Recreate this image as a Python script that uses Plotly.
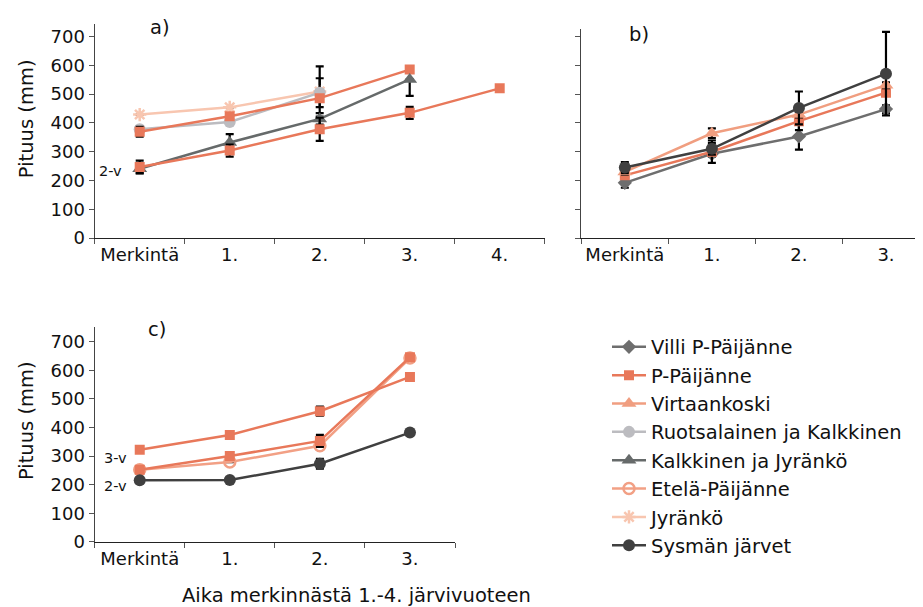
import plotly.graph_objects as go

W, H = 923, 607
FONT = "DejaVu Sans"

cats_a = ["Merkintä", "1.", "2.", "3.", "4."]
cats_bc = ["Merkintä", "1.", "2.", "3."]
y_ticks = [0, 100, 200, 300, 400, 500, 600, 700]

# ---- panel a ----
a_jyranko = [429, 454, 509]
a_jyranko_err = [0, 0, 87]
a_ruots = [378, 403, 505]
a_ruots_err = [0, 0, 50]
a_pp_upper = [369, 423, 486, 585]
a_pp_upper_err = [17, 0, 0, 0]
a_kalk_jyr = [241, 332, 414, 551]
a_kalk_jyr_plus = [15, 29, 20, 0]
a_kalk_jyr_minus = [15, 29, 20, 57]
a_pp_lower = [247, 304, 378, 435, 520]
a_pp_lower_err = [22, 21, 40, 21, 3]

# ---- panel b ----
b_villi = [192, 293, 353, 448]
b_villi_err = [17, 10, 46, 13]
b_pp = [218, 300, 406, 505]
b_pp_err = [10, 39, 31, 10]
b_virta = [230, 364, 429, 531]
b_virta_err = [10, 17, 10, 10]
b_sysma = [245, 310, 452, 571]
b_sysma_err = [19, 20, 57, 145]

# ---- panel c ----
c_pp_3v = [322, 374, 457, 577]
c_pp_3v_err = [10, 0, 16, 0]
c_pp_2v = [252, 300, 353, 646]
c_pp_2v_err = [8, 0, 21, 0]
c_etela = [252, 279, 336, 643]
c_etela_err = [0, 0, 0, 0]
c_sysma = [215, 216, 273, 382]
c_sysma_err = [5, 0, 17, 0]

series_style = {
    "Villi P-Päijänne": dict(color="#6e6e6e", symbol="diamond", size=11, rank=1),
    "P-Päijänne": dict(color="#e8785a", symbol="square", size=10, rank=2),
    "Virtaankoski": dict(color="#f09e80", symbol="triangle-up", size=13, rank=3),
    "Ruotsalainen ja Kalkkinen": dict(color="#bcbcc0", symbol="circle", size=12, rank=4),
    "Kalkkinen ja Jyränkö": dict(color="#666a6a", symbol="triangle-up", size=13, rank=5),
    "Etelä-Päijänne": dict(color="#f2a085", symbol="circle-open", size=11, rank=6),
    "Jyränkö": dict(color="#f8c6b0", symbol="asterisk-open", size=11, rank=7),
    "Sysmän järvet": dict(color="#404040", symbol="circle", size=12, rank=8),
}

fig = go.Figure()
shown = set()


def add(name, cats, vals, plus, minus, xa, ya):
    st = series_style[name]
    show = name not in shown
    shown.add(name)
    mk = dict(color=st["color"], symbol=st["symbol"], size=st["size"])
    if st["symbol"].endswith("open"):
        mk["line"] = dict(color=st["color"], width=2.5)
    fig.add_trace(go.Scatter(
        x=cats[:len(vals)], y=vals, name=name, legendgroup=name,
        showlegend=show, legendrank=st["rank"],
        mode="lines+markers",
        line=dict(color=st["color"], width=2.5),
        marker=mk,
        error_y=dict(type="data", array=plus, arrayminus=minus, symmetric=False,
                     visible=True, color="black", thickness=2.2, width=4),
        xaxis=xa, yaxis=ya,
    ))


# panel a
add("Jyränkö", cats_a, a_jyranko, a_jyranko_err, a_jyranko_err, "x", "y")
add("Ruotsalainen ja Kalkkinen", cats_a, a_ruots, a_ruots_err, a_ruots_err, "x", "y")
add("P-Päijänne", cats_a, a_pp_upper, a_pp_upper_err, a_pp_upper_err, "x", "y")
add("Kalkkinen ja Jyränkö", cats_a, a_kalk_jyr, a_kalk_jyr_plus, a_kalk_jyr_minus, "x", "y")
add("P-Päijänne", cats_a, a_pp_lower, a_pp_lower_err, a_pp_lower_err, "x", "y")
# panel b
add("Villi P-Päijänne", cats_bc, b_villi, b_villi_err, b_villi_err, "x2", "y2")
add("P-Päijänne", cats_bc, b_pp, b_pp_err, b_pp_err, "x2", "y2")
add("Virtaankoski", cats_bc, b_virta, b_virta_err, b_virta_err, "x2", "y2")
add("Sysmän järvet", cats_bc, b_sysma, b_sysma_err, b_sysma_err, "x2", "y2")
# panel c
add("Etelä-Päijänne", cats_bc, c_etela, c_etela_err, c_etela_err, "x3", "y3")
add("P-Päijänne", cats_bc, c_pp_3v, c_pp_3v_err, c_pp_3v_err, "x3", "y3")
add("P-Päijänne", cats_bc, c_pp_2v, c_pp_2v_err, c_pp_2v_err, "x3", "y3")
add("Sysmän järvet", cats_bc, c_sysma, c_sysma_err, c_sysma_err, "x3", "y3")


def px_x(p):
    return p / W


def px_y(p):
    return 1 - p / H


def xaxis(cats, x0, x1, anchor):
    return dict(
        type="category", categoryorder="array", categoryarray=cats,
        range=[-0.5, len(cats) - 0.5], domain=[px_x(x0), px_x(x1)],
        anchor=anchor, showline=True, linecolor="#222", linewidth=1.3,
        ticks="outside", tickson="boundaries", ticklen=5, tickcolor="#555",
        tickangle=0,
        tickfont=dict(size=18, color="#111", family=FONT),
        showgrid=False, zeroline=False, fixedrange=True,
    )


def yaxis(bottom, top, ymax, anchor, labels=True):
    return dict(
        range=[0, ymax], domain=[px_y(bottom), px_y(top)], anchor=anchor,
        tickvals=y_ticks, showticklabels=labels,
        showline=True, linecolor="#444", linewidth=1.3,
        ticks="outside", ticklen=5, tickcolor="#555",
        tickfont=dict(size=18, color="#111", family=FONT),
        showgrid=False, zeroline=False, fixedrange=True,
    )


sa = 0.2929
fig.update_layout(
    width=W, height=H, autosize=False,
    margin=dict(l=0, r=0, t=0, b=0),
    paper_bgcolor="white", plot_bgcolor="white",
    font=dict(family=FONT, color="#111"),
    xaxis=xaxis(cats_a, 86.7, 536.7, "y"),
    yaxis=yaxis(234, 16, 218 / sa, "x"),
    xaxis2=xaxis(cats_bc, 573.3, 921.5, "y2"),
    yaxis2=yaxis(234, 21.7, 212.3 / sa, "x2", labels=False),
    xaxis3=xaxis(cats_bc, 86.7, 447, "y3"),
    yaxis3=yaxis(542.7, 324, 218.7 / 0.2905, "x3"),
    showlegend=True,
    legend=dict(
        x=px_x(599), y=px_y(325), xanchor="left", yanchor="top",
        font=dict(size=19.5, family=FONT, color="#111"),
        tracegroupgap=0, itemwidth=34, bgcolor="rgba(0,0,0,0)",
        traceorder="normal",
    ),
)

ann = [
    dict(text="a)", x=px_x(152), y=px_y(20)),
    dict(text="b)", x=px_x(631), y=px_y(27)),
    dict(text="c)", x=px_x(149), y=px_y(327)),
    dict(text="Pituus (mm)", x=px_x(18), y=px_y(113), textangle=-90),
    dict(text="Pituus (mm)", x=px_x(18), y=px_y(420), textangle=-90),
    dict(text="Aika merkinnästä 1.-4. järvivuoteen", x=px_x(348), y=px_y(597)),
]
for a in ann:
    fig.add_annotation(xref="paper", yref="paper", showarrow=False,
                       xanchor="center", yanchor="middle",
                       font=dict(size=19.5, family=FONT, color="#111"), **a)

small = [
    dict(text="2-v", x=px_x(102), y=px_y(166)),
    dict(text="3-v", x=px_x(107), y=px_y(458)),
    dict(text="2-v", x=px_x(107), y=px_y(486)),
]
for a in small:
    fig.add_annotation(xref="paper", yref="paper", showarrow=False,
                       xanchor="center", yanchor="middle",
                       font=dict(size=14.5, family=FONT, color="#111"), **a)

fig.write_html("out.html")
